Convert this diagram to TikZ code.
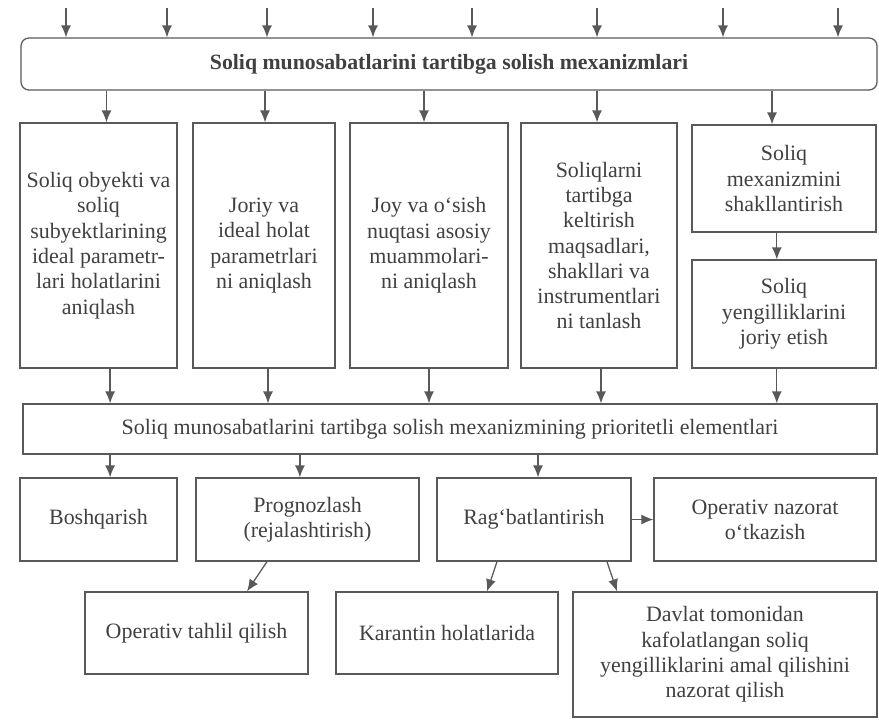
\documentclass[tikz,border=0pt]{standalone}
\usepackage{fontspec}
\setmainfont{Liberation Serif}
\usetikzlibrary{arrows.meta}

\begin{document}
\begin{tikzpicture}[
    box/.style={draw=black!65,line width=0.9pt,align=center,text=black!75,inner sep=2pt,font=\fontsize{15.6}{18}\selectfont},
    arr/.style={draw=black!65,line width=0.9pt,-{Latex[length=3mm,width=2.5mm]}}
  ]
  \useasboundingbox (0,0) rectangle (21.975,-18);

  % 1. Top block (mechanisms) with the incoming arrows
  \node (top) at (11.225,-1.6) [box,minimum width=21.4cm,minimum height=1.3cm,rounded corners=0.2cm,font=\fontsize{15.5}{18}\selectfont\bfseries] {Soliq munosabatlarini tartibga solish mexanizmlari};
  \foreach \x [count=\i] in {1.65,4.175,6.675,9.325,11.8,14.925,18.075,20.95} {
    \coordinate (in\i) at (\x,-0.2);
    \draw[arr] (in\i) -- (in\i |- top.north);
  }

  % 2. Columns under the top block
  \node (c1) at (2.4625,-6.1375) [box,minimum width=3.925cm,minimum height=6.125cm] {Soliq obyekti va\\soliq\\subyektlarining\\ideal parametr-\\lari holatlarini\\aniqlash};
  \node (c2) at (6.6,-6.1375) [box,minimum width=3.55cm,minimum height=6.125cm] {Joriy va\\ideal holat\\parametrlari\\ni aniqlash};
  \node (c3) at (10.725,-6.1375) [box,minimum width=3.95cm,minimum height=6.125cm] {Joy va o‘sish\\nuqtasi asosiy\\muammolari-\\ni aniqlash};
  \node (c4) at (14.975,-6.1375) [box,minimum width=3.9cm,minimum height=6.125cm] {Soliqlarni\\tartibga\\keltirish\\maqsadlari,\\shakllari va\\instrumentlari\\ni tanlash};
  \node (c5a) at (19.6,-4.4625) [box,minimum width=4.6cm,minimum height=2.675cm] {Soliq\\mexanizmini\\shakllantirish};
  \node (c5b) at (19.6,-7.85) [box,minimum width=4.6cm,minimum height=2.7cm] {Soliq\\yengilliklarini\\joriy etish};

  % Arrows from the top block into the columns
  \foreach \n/\dx in {c1/0.2,c2/0.025,c3/-0.125,c4/-0.05,c5a/-0.3} {
    \coordinate (t\n) at ([xshift=\dx cm]\n.north);
    \draw[arr] (t\n |- top.south) -- (t\n);
  }
  \coordinate (s5) at ([xshift=-0.18cm]c5a.south);
  \draw[arr] (s5) -- (s5 |- c5b.north);

  % 3. Middle block (priority elements)
  \node (mid) at (11.25,-10.725) [box,minimum width=21.35cm,minimum height=1.25cm] {Soliq munosabatlarini tartibga solish mexanizmining prioritetli elementlari};
  \foreach \n/\dx in {c1/0.29,c2/0.1,c3/0,c4/0.05,c5b/-0.18} {
    \coordinate (b\n) at ([xshift=\dx cm]\n.south);
    \draw[arr] (b\n) -- (b\n |- mid.north);
  }

  % 4. Third row
  \node (bosh) at (2.4625,-12.9875) [box,minimum width=3.925cm,minimum height=2.075cm] {Boshqarish};
  \node (prog) at (7.6875,-12.9875) [box,minimum width=5.575cm,minimum height=2.075cm] {Prognozlash\\(rejalashtirish)};
  \node (rag) at (13.35,-12.9875) [box,minimum width=4.85cm,minimum height=2.075cm] {Rag‘batlantirish};
  \node (opn) at (19.125,-12.9875) [box,minimum width=5.55cm,minimum height=2.075cm] {Operativ nazorat\\o‘tkazish};
  \foreach \n/\dx in {bosh/0.29,prog/-0.19,rag/0.1} {
    \coordinate (m\n) at ([xshift=\dx cm]\n.north);
    \draw[arr] (m\n |- mid.south) -- (m\n);
  }
  \draw[arr] (rag.east) -- (opn.west);

  % 5. Bottom row
  \node (opt) at (4.9125,-15.825) [box,minimum width=5.575cm,minimum height=2.05cm] {Operativ tahlil qilish};
  \node (kar) at (11.175,-15.825) [box,minimum width=5.55cm,minimum height=2.05cm] {Karantin holatlarida};
  \node (dav) at (18.125,-16.3625) [box,minimum width=7.6cm,minimum height=3.125cm] {Davlat tomonidan\\kafolatlangan soliq\\yengilliklarini amal qilishini\\nazorat qilish};

  % Diagonal branches
  \draw[arr] ([xshift=-1.0125cm]prog.south) -- ([xshift=1.2625cm]opt.north);
  \draw[arr] ([xshift=-0.925cm]rag.south) -- ([xshift=1cm]kar.north);
  \draw[arr] ([xshift=1.825cm]rag.south) -- ([xshift=-2.7cm]dav.north);

\end{tikzpicture}
\end{document}
